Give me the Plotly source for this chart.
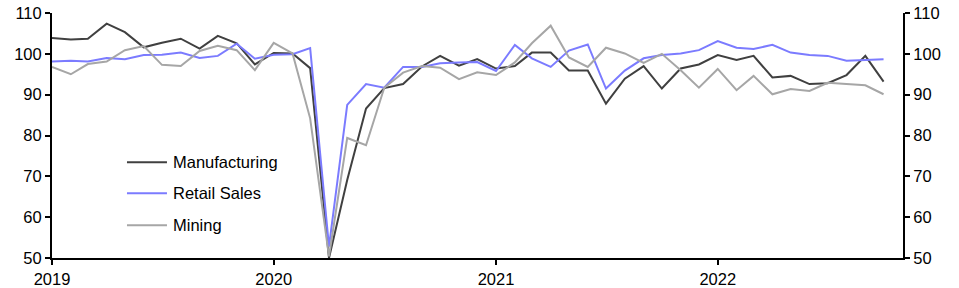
import plotly.graph_objects as go
import pandas as pd

dates = pd.date_range("2019-01-01", "2022-10-01", freq="MS")

manufacturing = [103.9, 103.5, 103.7, 107.4, 105.3, 101.6, 102.7, 103.7, 101.3, 104.4, 102.6, 97.4,
                 100.2, 100.1, 96.5, 50.0, 69.1, 86.6, 91.6, 92.6, 96.9, 99.5, 97.1, 98.7,
                 96.4, 97.0, 100.3, 100.3, 95.9, 95.9, 87.8, 93.9, 97.0, 91.5, 96.4, 97.4,
                 99.7, 98.5, 99.5, 94.2, 94.6, 92.6, 92.8, 94.8, 99.5, 93.2]
retail_sales = [98.1, 98.3, 98.1, 99.0, 98.7, 99.7, 99.8, 100.3, 99.0, 99.5, 102.5, 98.8,
                99.8, 99.9, 101.4, 52.8, 87.5, 92.6, 91.7, 96.8, 96.8, 97.7, 97.9, 98.0,
                95.8, 102.2, 98.9, 96.8, 100.8, 102.3, 91.5, 95.9, 98.9, 99.7, 100.1, 100.9,
                103.1, 101.5, 101.2, 102.2, 100.3, 99.7, 99.5, 98.3, 98.5, 98.7]
mining = [96.8, 95.0, 97.5, 98.1, 100.9, 101.9, 97.3, 97.0, 100.7, 102.0, 100.9, 96.0,
          102.7, 100.1, 84.2, 50.4, 79.4, 77.6, 91.7, 95.4, 97.0, 96.6, 93.8, 95.5,
          94.8, 97.9, 102.6, 106.9, 99.1, 96.8, 101.5, 100.1, 97.8, 100.0, 96.0, 91.7,
          96.3, 91.1, 94.6, 90.1, 91.4, 90.9, 92.9, 92.6, 92.3, 90.1]

series_names = ["Manufacturing", "Retail Sales", "Mining"]
series_values = [manufacturing, retail_sales, mining]
series_colors = ["#404040", "#7b7bff", "#a6a6a6"]

y_ticks = [50, 60, 70, 80, 90, 100, 110]
x_ticks = ["2019-01-01", "2020-01-01", "2021-01-01", "2022-01-01"]
x_tick_labels = ["2019", "2020", "2021", "2022"]

FONT = dict(family="Liberation Sans, Arial, sans-serif", size=16.5, color="#000000")

fig = go.Figure()
for name, vals, col in zip(series_names, series_values, series_colors):
    fig.add_trace(go.Scatter(x=dates, y=vals, mode="lines", name=name,
                             line=dict(color=col, width=2), showlegend=False))

# invisible trace for right axis
fig.add_trace(go.Scatter(x=[dates[0]], y=[None], yaxis="y2", showlegend=False,
                         hoverinfo="skip"))

# manual legend
leg_x0, leg_x1, leg_tx = 0.0881, 0.1351, 0.1398
leg_ys = [0.3906, 0.264, 0.1335]
for name, col, ly in zip(series_names, series_colors, leg_ys):
    fig.add_shape(type="line", xref="paper", yref="paper", x0=leg_x0, x1=leg_x1,
                  y0=ly, y1=ly, line=dict(color=col, width=2))
    fig.add_annotation(xref="paper", yref="paper", x=leg_tx, y=ly, text=name,
                       showarrow=False, xanchor="left", yanchor="middle", font=FONT)

axis_common = dict(range=[50, 110], tickvals=y_ticks, showgrid=False, zeroline=False,
                   showline=True, linecolor="#000000", linewidth=2, ticks="outside",
                   ticklen=5, tickwidth=2, tickcolor="#000000", tickfont=FONT,
                   automargin=False)

fig.update_layout(
    width=959, height=288,
    margin=dict(l=52, r=56, t=13, b=30),
    plot_bgcolor="white", paper_bgcolor="white",
    font=FONT,
    xaxis=dict(type="date", range=["2019-01-01", "2022-11-02"], tickvals=x_ticks,
               ticktext=x_tick_labels, showgrid=False, zeroline=False, showline=True,
               linecolor="#000000", linewidth=2, ticks="outside", ticklen=5,
               tickwidth=2, tickcolor="#000000", tickfont=FONT, automargin=False),
    yaxis=dict(**axis_common, side="left"),
    yaxis2=dict(**axis_common, side="right", overlaying="y"),
    showlegend=False,
)

fig.write_html("out.html")
